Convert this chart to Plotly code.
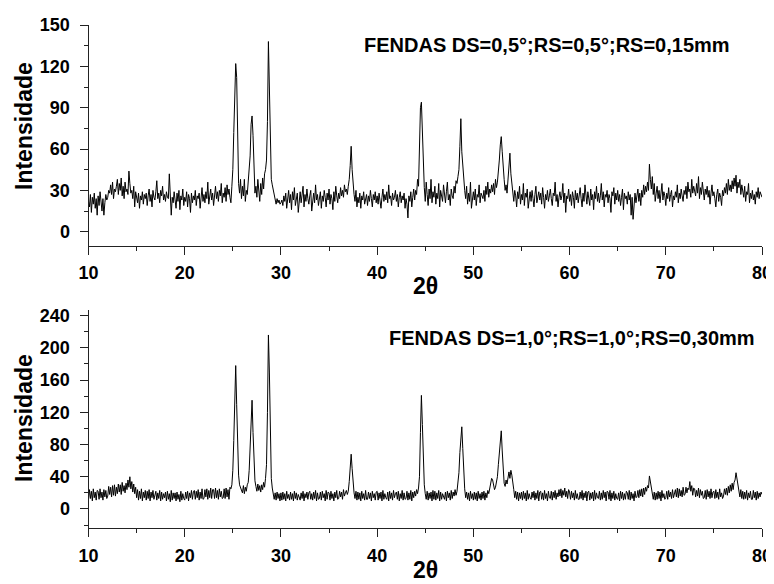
import numpy as np
import plotly.graph_objects as go

# 2-theta grid: 10.0 .. 80.0 step 0.1 deg
theta_start = 10.0
theta_step = 0.1

# Intensity, slits DS=0,5 RS=0,5 RS=0,15mm (one row = one degree)
intens_top = [
    22, 18, 27, 14, 25, 20, 28, 17, 24, 12,
    26, 19, 29, 22, 15, 24, 12, 21, 27, 23,
    25, 30, 28, 34, 27, 36, 24, 31, 29, 33,
    38, 27, 35, 30, 39, 26, 33, 24, 36, 29,
    31, 27, 44, 35, 28, 30, 24, 33, 18, 29,
    25, 21, 28, 17, 26, 23, 29, 20, 27, 24,
    28, 19, 26, 31, 22, 27, 18, 30, 25, 23,
    29, 37, 24, 28, 21, 30, 26, 33, 23, 27,
    22, 29, 25, 24, 42, 27, 12, 25, 21, 29,
    24, 17, 28, 22, 30, 16, 26, 23, 31, 19,
    25, 22, 29, 18, 27, 24, 14, 28, 21, 26,
    23, 30, 19, 26, 24, 28, 17, 25, 32, 22,
    27, 21, 29, 24, 36, 20, 26, 31, 23, 28,
    19, 27, 33, 24, 29, 22, 30, 26, 35, 21,
    28, 25, 32, 22, 34, 27, 31, 25, 21, 33,
    45, 72, 100, 122, 112, 60, 35, 28, 38, 24,
    33, 26, 38, 22, 30, 27, 36, 40, 55, 78,
    84, 70, 40, 28, 33, 25, 38, 30, 22, 35,
    27, 39, 31, 42, 45, 52, 80, 138, 105, 50,
    38, 34, 30, 26, 22, 20, 24, 21, 23, 20,
    21, 23, 19, 26, 22, 28, 17, 24, 30, 21,
    27, 16, 29, 23, 32, 19, 25, 28, 14, 24,
    29, 21, 26, 33, 18, 27, 22, 31, 24, 20,
    26, 30, 15, 25, 28, 21, 34, 23, 27, 19,
    24, 29, 17, 26, 22, 30, 25, 18, 28, 23,
    31, 20, 27, 24, 16, 29, 22, 33, 26, 21,
    28, 24, 32, 26, 30, 25, 34, 29, 31, 27,
    33, 38, 48, 62, 45, 34, 27, 22, 30, 18,
    25, 21, 28, 17, 26, 23, 29, 20, 24, 27,
    19, 26, 22, 30, 24, 18, 27, 23, 29, 21,
    26, 20, 28, 24, 17, 25, 31, 22, 27, 23,
    29, 21, 34, 24, 26, 19, 28, 23, 25, 30,
    22, 27, 18, 25, 29, 21, 26, 23, 28, 17,
    24, 20, 10, 26, 22, 29, 18, 25, 31, 23,
    30, 27, 38, 33, 55, 90, 94, 75, 45, 32,
    22, 36, 27, 19, 31, 24, 38, 21, 29, 25,
    33, 20, 28, 24, 35, 18, 30, 26, 22, 34,
    27, 21, 29, 36, 23, 27, 19, 31, 26, 24,
    33, 28, 37, 35, 40, 45, 62, 82, 58, 47,
    40, 30, 24, 33, 20, 28, 22, 36, 17, 26,
    29, 23, 31, 19, 27, 25, 34, 21, 28, 26,
    24, 30, 22, 33, 27, 36, 25, 31, 28, 34,
    29, 35, 27, 38, 32, 36, 42, 52, 63, 69,
    58, 45, 38, 30, 34, 28, 36, 45, 57, 42,
    35, 28, 22, 30, 26, 18, 29, 24, 33, 20,
    27, 23, 35, 19, 28, 25, 31, 17, 26, 29,
    22, 30, 24, 18, 27, 33, 21, 26, 29, 23,
    28, 20, 32, 25, 17, 27, 23, 30, 22, 26,
    31, 24, 19, 28, 26, 36, 22, 27, 18, 25,
    29, 23, 26, 35, 21, 28, 14, 26, 24, 31,
    22, 27, 19, 29, 25, 17, 30, 23, 28, 21,
    26, 32, 24, 18, 28, 22, 34, 27, 20, 29,
    25, 19, 31, 23, 27, 16, 29, 24, 33, 22,
    28, 21, 26, 35, 23, 29, 18, 27, 25, 30,
    21, 27, 24, 14, 29, 26, 32, 20, 28, 23,
    30, 22, 27, 19, 25, 31, 16, 28, 24, 26,
    20, 29, 23, 27, 12, 25, 9, 24, 28, 21,
    26, 31, 22, 28, 19, 30, 25, 34, 27, 33,
    29, 36, 30, 49, 38, 31, 40, 27, 35, 22,
    28, 33, 24, 30, 21, 27, 35, 23, 29, 26,
    19, 28, 24, 32, 22, 27, 30, 18, 26, 23,
    29, 25, 34, 21, 28, 24, 31, 26, 22, 30,
    27, 33, 24, 36, 29, 31, 25, 38, 28, 33,
    30, 26, 35, 28, 40, 24, 32, 27, 36, 29,
    23, 31, 27, 33, 25, 30, 20, 28, 34, 26,
    29, 24, 18, 27, 31, 22, 28, 25, 19, 30,
    26, 32, 28, 35, 27, 38, 30, 34, 29, 37,
    31, 39, 33, 41, 28, 36, 32, 38, 27, 34,
    30, 25, 33, 22, 29, 27, 35, 21, 28, 24,
    30, 23, 27, 20, 29, 25, 32, 24, 29, 27,
    25,
]

# Intensity, slits DS=1,0 RS=1,0 RS=0,30mm (one row = one degree)
intens_bot = [
    12, 24, 13, 22, 10, 25, 14, 21, 11, 23,
    22, 12, 25, 14, 21, 11, 24, 15, 23, 13,
    16, 28, 18, 27, 15, 29, 17, 30, 16, 27,
    19, 31, 21, 30, 18, 33, 22, 29, 20, 32,
    24, 36, 27, 40, 25, 34, 21, 31, 19, 27,
    14, 24, 11, 22, 13, 25, 10, 21, 14, 23,
    11, 22, 13, 24, 10, 21, 14, 23, 12, 20,
    22, 11, 20, 13, 23, 10, 21, 12, 19, 14,
    21, 10, 22, 12, 19, 9, 23, 11, 20, 13,
    20, 10, 21, 12, 18, 9, 22, 11, 19, 13,
    11, 21, 13, 22, 10, 20, 14, 23, 12, 21,
    23, 12, 22, 14, 24, 11, 21, 13, 25, 12,
    13, 24, 15, 25, 12, 23, 14, 26, 13, 24,
    24, 13, 26, 14, 23, 12, 25, 15, 22, 13,
    14, 25, 13, 26, 15, 24, 12, 27, 25, 30,
    48, 85, 140, 178, 130, 72, 42, 30, 27, 24,
    20, 29, 19, 27, 22, 30, 33, 48, 78, 120,
    135, 95, 55, 35, 28, 22, 31, 23, 29, 21,
    30, 24, 33, 27, 38, 55, 120, 216, 170, 75,
    38, 26, 19, 12, 20, 11, 21, 13, 19, 10,
    20, 11, 21, 12, 19, 10, 22, 13, 18, 11,
    21, 12, 19, 10, 22, 13, 20, 11, 18, 14,
    11, 20, 13, 22, 10, 19, 14, 21, 12, 20,
    22, 12, 19, 11, 21, 13, 23, 10, 20, 12,
    13, 21, 11, 22, 14, 19, 10, 23, 12, 21,
    20, 11, 22, 13, 19, 10, 21, 14, 23, 12,
    13, 22, 15, 21, 12, 24, 16, 20, 23, 18,
    22, 34, 55, 68, 50, 30, 20, 13, 22, 11,
    21, 12, 20, 10, 22, 13, 19, 11, 23, 12,
    12, 21, 13, 20, 10, 22, 14, 19, 11, 21,
    22, 11, 20, 13, 21, 10, 23, 12, 19, 14,
    12, 21, 10, 22, 13, 20, 11, 23, 14, 19,
    21, 12, 22, 10, 19, 13, 23, 11, 20, 12,
    13, 22, 11, 20, 12, 23, 10, 21, 14, 22,
    16, 24, 19, 26, 40, 95, 141, 105, 55, 30,
    19, 12, 22, 11, 20, 13, 21, 10, 23, 12,
    22, 11, 20, 13, 23, 10, 21, 12, 19, 14,
    12, 21, 10, 22, 14, 20, 11, 23, 13, 21,
    16, 24, 17, 22, 32, 45, 70, 95, 102, 75,
    42, 25, 14, 21, 12, 20, 10, 22, 13, 19,
    11, 21, 12, 20, 10, 22, 13, 19, 11, 21,
    13, 22, 11, 20, 14, 23, 19, 25, 31, 38,
    36, 28, 24, 27, 33, 40, 55, 72, 88, 97,
    72, 45, 32, 28, 36, 31, 40, 46, 38, 48,
    42, 35, 24, 14, 22, 12, 21, 10, 20, 13,
    21, 11, 22, 13, 20, 10, 23, 12, 19, 14,
    12, 21, 14, 22, 11, 20, 13, 23, 10, 21,
    22, 12, 20, 11, 23, 13, 19, 10, 22, 14,
    13, 22, 11, 21, 14, 23, 12, 20, 15, 24,
    16, 25, 14, 23, 17, 26, 15, 22, 13, 24,
    21, 12, 22, 14, 20, 11, 23, 13, 19, 12,
    12, 21, 13, 23, 11, 20, 14, 22, 10, 21,
    22, 11, 20, 13, 21, 10, 23, 12, 20, 14,
    13, 22, 11, 20, 12, 23, 14, 21, 10, 22,
    21, 12, 23, 10, 20, 13, 22, 11, 19, 13,
    12, 20, 10, 22, 13, 21, 11, 19, 12, 22,
    20, 12, 23, 11, 21, 13, 19, 10, 22, 14,
    15, 23, 14, 24, 16, 25, 15, 26, 18, 27,
    22, 29, 26, 41, 33, 27, 19, 12, 21, 11,
    20, 12, 22, 13, 21, 10, 23, 14, 19, 12,
    14, 22, 12, 23, 15, 21, 13, 24, 14, 22,
    24, 15, 26, 14, 25, 16, 23, 15, 27, 17,
    18, 27, 20, 26, 24, 34, 22, 29, 17, 26,
    25, 15, 23, 16, 26, 14, 24, 17, 22, 13,
    14, 23, 12, 24, 15, 22, 13, 25, 14, 21,
    22, 13, 24, 14, 21, 12, 25, 15, 20, 13,
    16, 25, 18, 26, 17, 28, 20, 30, 22, 32,
    24, 33, 36, 45, 38, 30, 21, 15, 24, 13,
    22, 12, 21, 13, 23, 11, 20, 14, 22, 12,
    12, 23, 14, 21, 11, 22, 13, 20, 15, 21,
    18,
]

label_top = "FENDAS DS=0,5°;RS=0,5°;RS=0,15mm"
label_bot = "FENDAS DS=1,0°;RS=1,0°;RS=0,30mm"
x_title = "2θ"
y_title = "Intensidade"

two_theta_top = np.round(theta_start + theta_step * np.arange(len(intens_top)), 2)
two_theta_bot = np.round(theta_start + theta_step * np.arange(len(intens_bot)), 2)

# page body has an 8px margin: figure sized to fit the 774x584 window
OFF = 8
W, H = 774 - OFF, 584 - OFF

def sx(px):
    return (px - OFF) / W

def sy(py):
    return (H - (py - OFF)) / H

FONT = "Liberation Sans, Arial, sans-serif"
tickfont = dict(family=FONT, size=18, color="black", weight="bold")
titlefont = dict(family=FONT, size=23, color="black", weight="bold")
labelfont = dict(family=FONT, size=20, color="black", weight="bold")

fig = go.Figure()
fig.add_trace(go.Scatter(x=two_theta_top, y=intens_top, mode="lines",
                         line=dict(color="black", width=1), xaxis="x", yaxis="y",
                         showlegend=False))
fig.add_trace(go.Scatter(x=two_theta_bot, y=intens_bot, mode="lines",
                         line=dict(color="black", width=1), xaxis="x2", yaxis="y2",
                         showlegend=False))

xdom = [sx(88.5), sx(762)]

def xax(anchor):
    return dict(domain=xdom, anchor=anchor, range=[10, 80], tick0=10, dtick=10,
                automargin=False,
                showgrid=False, zeroline=False, showline=True, linecolor="#222",
                linewidth=1, ticks="outside", ticklen=8, tickcolor="#222",
                tickwidth=1, tickfont=tickfont, ticklabelstandoff=3,
                minor=dict(dtick=5, tick0=10, ticks="outside", ticklen=4,
                           tickcolor="#222", showgrid=False))

def yax(anchor, dom, rng, dt):
    return dict(domain=dom, anchor=anchor, range=rng, tick0=0, dtick=dt,
                automargin=False,
                showgrid=False, zeroline=False, showline=True, linecolor="#222",
                linewidth=1, ticks="outside", ticklen=8, tickcolor="#222",
                tickwidth=1, tickfont=tickfont, ticklabelstandoff=6,
                minor=dict(dtick=dt / 2, tick0=0, ticks="outside", ticklen=4,
                           tickcolor="#222", showgrid=False))

def ann(text, x, y, font, **kw):
    return dict(text=text, xref="paper", yref="paper", x=sx(x), y=sy(y),
                showarrow=False, font=font, **kw)

fig.update_layout(
    width=W, height=H,
    margin=dict(l=0, r=0, t=0, b=0, autoexpand=False),
    paper_bgcolor="white", plot_bgcolor="white",
    xaxis=xax("y"),
    yaxis=yax("x", [sy(245.5), sy(25)], [-10, 150], 30),
    xaxis2=xax("y2"),
    yaxis2=yax("x2", [sy(528.3), sy(310)], [-24, 247], 40),
    annotations=[
        ann(label_top, 362, 44.5, labelfont, xanchor="left", yanchor="middle"),
        ann(label_bot, 387, 337.5, labelfont, xanchor="left", yanchor="middle"),
        ann(x_title, 425, 286, titlefont, xanchor="center", yanchor="middle"),
        ann(x_title, 425, 570, titlefont, xanchor="center", yanchor="middle"),
        ann(y_title, 24, 126, titlefont, xanchor="center", yanchor="middle", textangle=-90),
        ann(y_title, 24, 418, titlefont, xanchor="center", yanchor="middle", textangle=-90),
    ],
)

fig.write_html("out.html")
